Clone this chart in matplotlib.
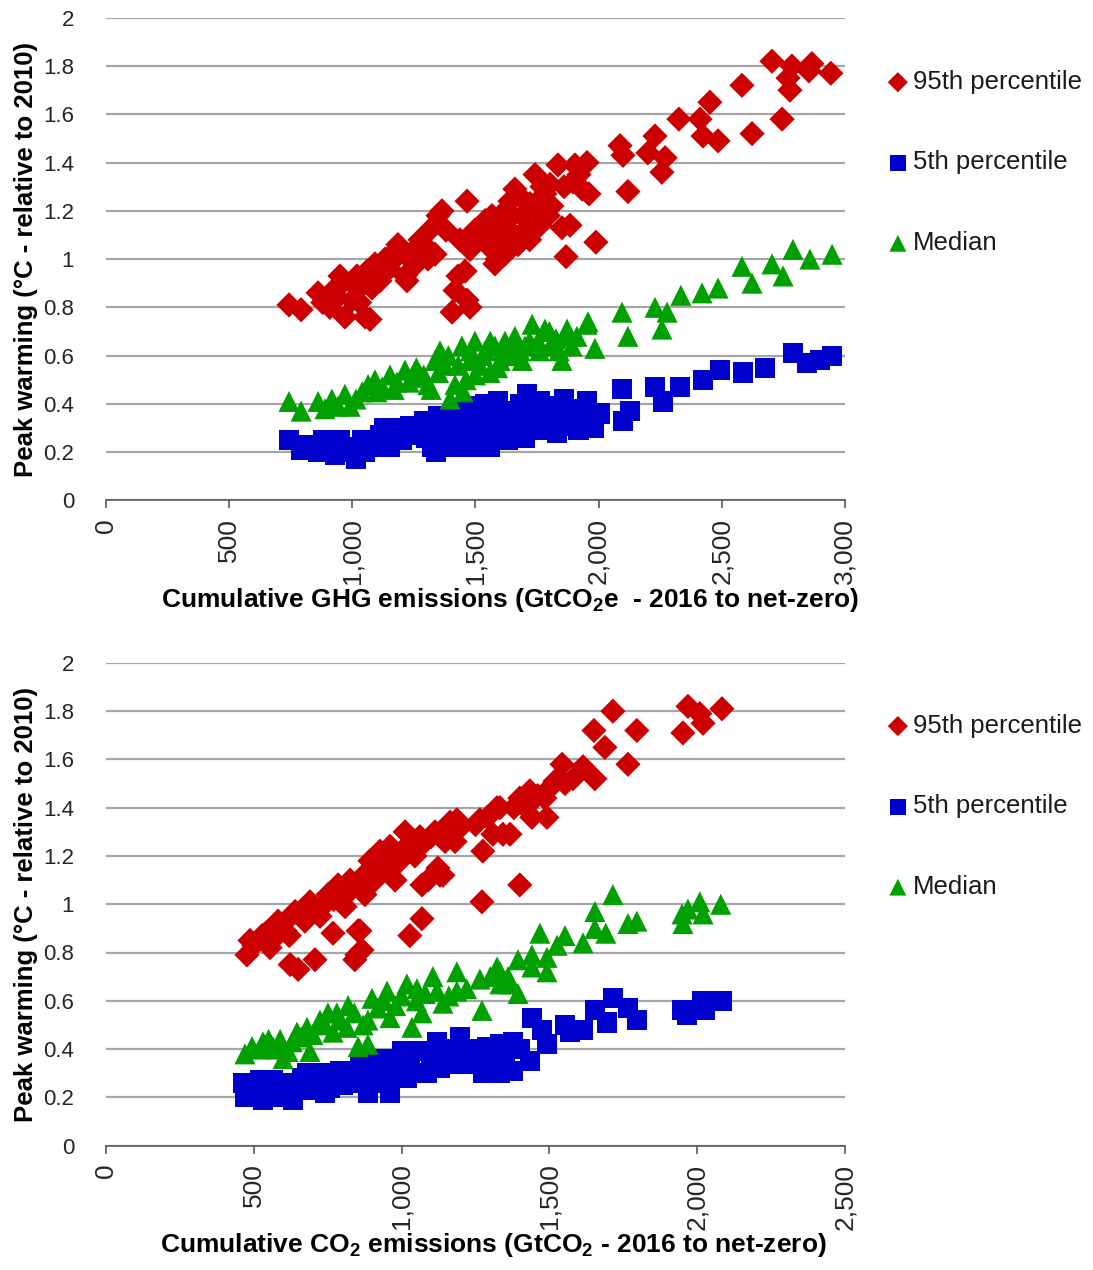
import matplotlib
matplotlib.use("Agg")
import matplotlib.pyplot as plt
from matplotlib.ticker import FuncFormatter

# ---------------- data ----------------
LABELS = ["95th percentile", "5th percentile", "Median"]
COLORS = ["#CC0000", "#0000CC", "#00A000"]

GHG_XTICKS = [0, 500, 1000, 1500, 2000, 2500, 3000]
CO2_XTICKS = [0, 500, 1000, 1500, 2000, 2500]
YTICKS = [0, 0.2, 0.4, 0.6, 0.8, 1.0, 1.2, 1.4, 1.6, 1.8, 2.0]

# Top panel: cumulative GHG emissions vs peak warming
GHG_P95 = [(743, 0.81), (792, 0.79), (861, 0.86), (909, 0.80), (922, 0.87), (950, 0.93),
           (970, 0.76), (999, 0.83), (1019, 0.93), (1052, 0.76), (1072, 0.75), (1040, 0.89),
           (1092, 0.98), (1112, 0.91), (1133, 1.00), (1161, 1.02), (1185, 1.06), (1214, 0.93),
           (1234, 1.00), (1255, 1.04), (1275, 1.08), (1307, 1.00), (1336, 1.02), (1324, 1.13),
           (1348, 1.18), (1364, 1.20), (1380, 1.12), (1405, 0.78), (1417, 0.87), (1429, 0.93),
           (1437, 1.08), (1458, 0.95), (1466, 0.83), (1466, 1.24), (1478, 1.04), (1498, 1.12),
           (1527, 1.14), (1547, 1.06), (1567, 1.18), (1579, 0.98), (1600, 1.08), (1620, 1.20),
           (1640, 1.24), (1648, 1.11), (1660, 1.29), (1673, 1.06), (1689, 1.18), (1701, 1.12),
           (1721, 1.23), (1742, 1.35), (1762, 1.14), (1782, 1.27), (1795, 1.18), (1803, 1.31),
           (1835, 1.39), (1851, 1.13), (1868, 1.01), (1884, 1.14), (1904, 1.39), (1933, 1.29),
           (1953, 1.40), (1961, 1.27), (1989, 1.07), (1896, 1.32), (2087, 1.47), (2099, 1.43),
           (2119, 1.28), (2200, 1.44), (2229, 1.51), (2257, 1.36), (2270, 1.42), (2326, 1.58),
           (2412, 1.58), (2424, 1.51), (2452, 1.65), (2485, 1.49), (2582, 1.72), (2623, 1.52),
           (2704, 1.82), (2745, 1.58), (2769, 1.75), (2777, 1.70), (2785, 1.80), (2854, 1.78),
           (2866, 1.81), (2943, 1.77), (1478, 0.80), (1588, 1.00), (1222, 0.91),
           (880, 0.82), (940, 0.84), (960, 0.90), (1000, 0.90), (1030, 0.82), (1060, 0.95),
           (1080, 0.88), (1100, 0.95), (1150, 0.96), (1170, 1.00), (1200, 1.03), (1260, 0.98),
           (1290, 1.06), (1500, 1.08), (1540, 1.16), (1560, 1.10), (1600, 1.14), (1620, 1.02),
           (1650, 1.18), (1680, 1.26), (1700, 1.18), (1720, 1.08), (1750, 1.20), (1770, 1.30),
           (1810, 1.22), (1860, 1.30), (1920, 1.35)]

GHG_P05 = [(743, 0.25), (792, 0.21), (861, 0.20), (909, 0.22), (950, 0.25), (983, 0.20),
           (1015, 0.17), (1040, 0.25), (1072, 0.23), (1112, 0.27), (1153, 0.22), (1185, 0.29),
           (1234, 0.31), (1275, 0.29), (1324, 0.22), (1348, 0.35), (1376, 0.31), (1417, 0.37),
           (1445, 0.25), (1478, 0.22), (1498, 0.39), (1527, 0.29), (1559, 0.33), (1592, 0.41),
           (1620, 0.29), (1648, 0.35), (1681, 0.28), (1709, 0.44), (1742, 0.33), (1762, 0.41),
           (1795, 0.29), (1823, 0.39), (1851, 0.31), (1884, 0.37), (1916, 0.29), (1945, 0.33),
           (1872, 0.36), (1920, 0.29), (1953, 0.41), (2006, 0.36), (2095, 0.46), (2099, 0.33),
           (2127, 0.37), (2229, 0.47), (2261, 0.41), (2330, 0.47), (2424, 0.50), (2493, 0.54),
           (2586, 0.53), (2676, 0.55), (2789, 0.61), (2846, 0.57), (2948, 0.60), (2899, 0.58),
           (1300, 0.26), (1540, 0.26), (1700, 0.31), (1160, 0.30), (1600, 0.36),
           (820, 0.23), (880, 0.25), (930, 0.19), (1000, 0.22), (1050, 0.20), (1100, 0.22),
           (1130, 0.30), (1200, 0.25), (1250, 0.27), (1290, 0.33), (1320, 0.28), (1340, 0.20),
           (1360, 0.27), (1400, 0.30), (1400, 0.22), (1430, 0.33), (1460, 0.36), (1480, 0.30),
           (1510, 0.35), (1520, 0.25), (1540, 0.40), (1560, 0.22), (1580, 0.29), (1610, 0.37),
           (1630, 0.25), (1660, 0.31), (1680, 0.40), (1700, 0.26), (1720, 0.37), (1750, 0.29),
           (1780, 0.36), (1810, 0.33), (1830, 0.28), (1860, 0.42), (1900, 0.34), (1940, 0.38),
           (1980, 0.30)]

GHG_MED = [(743, 0.41), (792, 0.37), (861, 0.41), (889, 0.38), (917, 0.42), (942, 0.39),
           (970, 0.44), (991, 0.39), (1015, 0.42), (1040, 0.45), (1064, 0.48), (1092, 0.50),
           (1121, 0.47), (1153, 0.52), (1181, 0.49), (1214, 0.54), (1242, 0.51), (1275, 0.52),
           (1307, 0.48), (1336, 0.58), (1356, 0.62), (1376, 0.56), (1397, 0.42), (1417, 0.48),
           (1445, 0.64), (1462, 0.50), (1478, 0.58), (1498, 0.66), (1518, 0.56), (1539, 0.62),
           (1559, 0.53), (1579, 0.64), (1600, 0.58), (1620, 0.66), (1640, 0.60), (1660, 0.68),
           (1681, 0.62), (1701, 0.64), (1730, 0.73), (1754, 0.66), (1782, 0.71), (1803, 0.64),
           (1827, 0.67), (1851, 0.58), (1872, 0.71), (1892, 0.64), (1912, 0.68), (1957, 0.74),
           (1985, 0.63), (2095, 0.78), (2119, 0.68), (1953, 0.73), (2229, 0.80), (2278, 0.78),
           (2257, 0.71), (2334, 0.85), (2420, 0.86), (2485, 0.88), (2582, 0.97), (2623, 0.90),
           (2704, 0.98), (2789, 1.04), (2749, 0.93), (2858, 1.00), (2948, 1.02),
           (1100, 0.45), (1170, 0.46), (1230, 0.49), (1260, 0.55), (1290, 0.52), (1320, 0.46),
           (1350, 0.53), (1390, 0.60), (1430, 0.56), (1450, 0.45), (1480, 0.62), (1500, 0.52),
           (1530, 0.60), (1560, 0.66), (1590, 0.55), (1610, 0.62), (1650, 0.64), (1690, 0.58),
           (1720, 0.66), (1760, 0.62), (1800, 0.70), (1840, 0.62), (1880, 0.68)]

# Bottom panel: cumulative CO2 emissions vs peak warming
CO2_P95 = [(477, 0.79), (487, 0.85), (528, 0.87), (555, 0.82), (582, 0.93), (606, 0.89),
           (623, 0.75), (640, 0.97), (650, 0.73), (673, 0.93), (690, 1.01), (707, 0.77),
           (724, 0.95), (751, 1.04), (768, 0.88), (785, 1.08), (809, 0.99), (826, 1.10),
           (842, 0.77), (853, 0.89), (866, 0.81), (876, 1.04), (893, 1.18), (910, 1.10),
           (927, 1.22), (944, 1.14), (961, 1.24), (978, 1.10), (995, 1.18), (1012, 1.30),
           (1028, 0.87), (1045, 1.20), (1062, 1.28), (1069, 0.94), (1089, 1.10), (1113, 1.30),
           (1130, 1.12), (1147, 1.26), (1164, 1.34), (1181, 1.26), (1333, 1.40), (1367, 1.29),
           (1400, 1.44), (1434, 1.47), (1441, 1.36), (1485, 1.44), (1492, 1.36), (1519, 1.51),
           (1543, 1.58), (1553, 1.50), (1614, 1.57), (1654, 1.52), (1651, 1.72), (1688, 1.65),
           (1715, 1.80), (1766, 1.58), (1796, 1.72), (1952, 1.71), (1969, 1.82), (2009, 1.79),
           (2020, 1.75), (2084, 1.81), (1400, 1.08), (1272, 1.01), (1187, 1.35), (1275, 1.22),
           (1323, 1.40), (1265, 1.35), (1309, 1.29), (1343, 1.29), (849, 0.79), (859, 0.89),
           (1140, 1.12), (1123, 1.15), (1069, 1.08),
           (500, 0.83), (540, 0.88), (570, 0.86), (600, 0.92), (620, 0.87), (660, 0.95),
           (700, 0.97), (740, 1.00), (770, 1.02), (800, 1.05), (830, 1.06), (860, 1.10),
           (880, 1.13), (920, 1.16), (950, 1.18), (980, 1.20), (1000, 1.22), (1030, 1.25),
           (1080, 1.26), (1100, 1.28), (1150, 1.30), (1200, 1.32), (1250, 1.33), (1290, 1.36),
           (1380, 1.40), (1420, 1.40), (1460, 1.45), (1500, 1.48), (1580, 1.52)]

CO2_P05 = [(463, 0.26), (470, 0.20), (511, 0.24), (531, 0.19), (565, 0.27), (578, 0.20),
           (629, 0.26), (633, 0.19), (663, 0.28), (697, 0.23), (731, 0.30), (758, 0.24),
           (792, 0.31), (825, 0.26), (859, 0.33), (886, 0.22), (917, 0.34), (937, 0.26),
           (961, 0.22), (984, 0.36), (1018, 0.28), (1052, 0.39), (1086, 0.30), (1120, 0.43),
           (1154, 0.34), (1198, 0.45), (1208, 0.34), (1275, 0.30), (1289, 0.41), (1333, 0.42),
           (1333, 0.30), (1377, 0.31), (1377, 0.43), (1434, 0.35), (1441, 0.53), (1475, 0.48),
           (1492, 0.42), (1553, 0.50), (1570, 0.47), (1614, 0.48), (1654, 0.56), (1695, 0.51),
           (1715, 0.61), (1766, 0.57), (1796, 0.52), (1949, 0.56), (1966, 0.54), (2016, 0.60),
           (2026, 0.56), (2084, 0.60), (1001, 0.39), (1240, 0.38), (1180, 0.40),
           (490, 0.22), (520, 0.27), (550, 0.22), (600, 0.24), (610, 0.20), (650, 0.23),
           (680, 0.30), (720, 0.26), (740, 0.22), (770, 0.28), (800, 0.25), (840, 0.30),
           (870, 0.28), (900, 0.31), (930, 0.36), (950, 0.30), (990, 0.32), (1030, 0.34),
           (1060, 0.30), (1100, 0.36), (1130, 0.32), (1160, 0.38), (1220, 0.40), (1250, 0.36),
           (1300, 0.38), (1350, 0.36), (1400, 0.40)]

CO2_MED = [(470, 0.38), (494, 0.41), (531, 0.43), (565, 0.41), (599, 0.36), (589, 0.44),
           (616, 0.39), (646, 0.47), (680, 0.49), (690, 0.39), (724, 0.52), (751, 0.55),
           (781, 0.55), (768, 0.47), (819, 0.58), (815, 0.49), (853, 0.41), (886, 0.42),
           (900, 0.61), (886, 0.52), (951, 0.64), (961, 0.53), (1018, 0.67), (1035, 0.49),
           (1052, 0.65), (1069, 0.55), (1106, 0.70), (1140, 0.59), (1187, 0.72), (1187, 0.64),
           (1265, 0.69), (1272, 0.56), (1323, 0.74), (1333, 0.67), (1333, 0.72), (1367, 0.67),
           (1394, 0.63), (1394, 0.77), (1441, 0.79), (1441, 0.74), (1468, 0.88), (1492, 0.78),
           (1492, 0.72), (1526, 0.83), (1553, 0.87), (1614, 0.84), (1654, 0.97), (1654, 0.90),
           (1691, 0.88), (1715, 1.04), (1766, 0.92), (1796, 0.93), (1949, 0.96), (1952, 0.92),
           (1969, 0.98), (2009, 1.01), (2020, 0.96), (2080, 1.00),
           (520, 0.40), (550, 0.44), (580, 0.40), (630, 0.43), (660, 0.45), (700, 0.46),
           (740, 0.50), (790, 0.52), (840, 0.55), (870, 0.50), (920, 0.57), (940, 0.60),
           (980, 0.58), (1000, 0.62), (1050, 0.60), (1080, 0.63), (1120, 0.64), (1160, 0.62),
           (1220, 0.65), (1300, 0.70), (1360, 0.70)]

# ---------------- styling ----------------
plt.rcParams['font.family'] = ['Liberation Sans', 'DejaVu Sans']
plt.rcParams['mathtext.fontset'] = 'custom'
plt.rcParams['mathtext.rm'] = 'Liberation Sans'
plt.rcParams['mathtext.bf'] = 'Liberation Sans:bold'

fig = plt.figure(figsize=(10.93, 12.70), dpi=100)
ax1 = fig.add_axes([0.097, 0.606, 0.676, 0.380])
ax2 = fig.add_axes([0.097, 0.098, 0.676, 0.380])

MARKERS = ["D", "s", "^"]
SIZES = [165, 210, 230]


def thousands(v, pos):
    return f"{int(v):,}"


def draw(ax, series, xmax, xticks, xlabel, xlabel_x, legend_y):
    handles = []
    for (pts, lab, col, mk, sz) in zip(series, LABELS, COLORS, MARKERS, SIZES):
        xs = [p[0] for p in pts]
        ys = [p[1] for p in pts]
        h = ax.scatter(xs, ys, marker=mk, s=sz, c=col, edgecolors='none', label=lab, zorder=3)
        handles.append(h)
    ax.set_xlim(0, xmax)
    ax.set_ylim(0, 2)
    ax.set_xticks(xticks)
    ax.set_yticks(YTICKS)
    ax.xaxis.set_major_formatter(FuncFormatter(thousands))
    ax.yaxis.set_major_formatter(FuncFormatter(lambda v, p: f"{v:g}"))
    ax.grid(axis='y', color='#A6A6A6', linewidth=1.6, zorder=0)
    ax.set_axisbelow(True)
    for s in ['top', 'right', 'left']:
        ax.spines[s].set_visible(False)
    ax.spines['bottom'].set_color('#595959')
    ax.spines['bottom'].set_linewidth(1.2)
    ax.tick_params(axis='y', length=0, labelsize=16, labelcolor='#262626', pad=23)
    ax.tick_params(axis='x', length=6, width=1.2, color='#595959', labelsize=19,
                   labelcolor='#262626', labelrotation=90, pad=7)
    for t in ax.get_xticklabels():
        t.set_verticalalignment('top')
    ax.set_ylabel("Peak warming (°C - relative to 2010)", fontsize=18.5, fontweight='bold',
                  labelpad=4)
    ax.set_xlabel(xlabel, fontsize=19, fontweight='bold', labelpad=1)
    ax.xaxis.label.set_x(xlabel_x)
    leg = ax.legend(handles=handles, loc='upper left', bbox_to_anchor=(0.805, legend_y),
                    bbox_transform=fig.transFigure, frameon=False, fontsize=18.5,
                    handlelength=0.6, handletextpad=0.3, labelspacing=2.2,
                    markerscale=0.8, borderaxespad=0)
    for t in leg.get_texts():
        t.set_color('#1a1a1a')
    return leg


draw(ax1, [GHG_P95, GHG_P05, GHG_MED], 3000, GHG_XTICKS,
     r"Cumulative GHG emissions (GtCO$_\mathbf{2}$e  - 2016 to net-zero)", 0.547, 0.953)
draw(ax2, [CO2_P95, CO2_P05, CO2_MED], 2500, CO2_XTICKS,
     r"Cumulative CO$_\mathbf{2}$ emissions (GtCO$_\mathbf{2}$ - 2016 to net-zero)", 0.524, 0.446)

fig.savefig("out.png", dpi=100)
